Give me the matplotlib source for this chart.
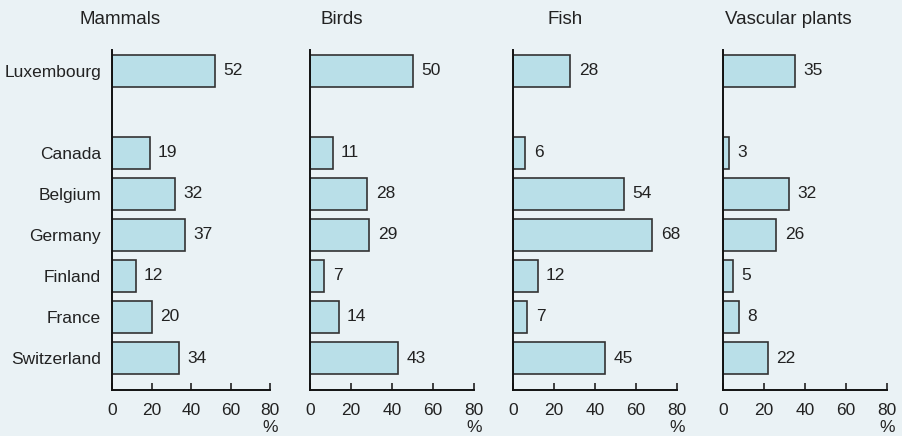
import numpy as np
from matplotlib import pyplot as plt

countries = ["Luxembourg", "Canada", "Belgium", "Germany", "Finland", "France", "Switzerland"]
groups = ["Mammals", "Birds", "Fish", "Vascular plants"]
mammals = [52, 19, 32, 37, 12, 20, 34]
birds = [50, 11, 28, 29, 7, 14, 43]
fish = [28, 6, 54, 68, 12, 7, 45]
plants = [35, 3, 32, 26, 5, 8, 22]
xticks = [0, 20, 40, 60, 80]

series = [mammals, birds, fish, plants]

plt.rcParams['font.family'] = ['Liberation Sans', 'DejaVu Sans']
plt.rcParams['font.size'] = 12.5

W, H = 902, 436
bg = "#eaf2f5"
fig = plt.figure(figsize=(W / 100, H / 100), dpi=100, facecolor=bg)

# axes left edge / width in pixels, title centre in pixels
lefts = [112, 310, 513, 723]
widths = [158, 164, 164, 164]
title_x = [120, 342, 565, 788]
top, bottom = 50, 390

# Luxembourg sits apart from the others (one empty slot)
ypos = [0, 2, 3, 4, 5, 6, 7]

for i in range(4):
    ax = fig.add_axes([lefts[i] / W, (H - bottom) / H, widths[i] / W, (bottom - top) / H])
    ax.set_facecolor(bg)
    ax.barh(ypos, series[i], height=0.8, color="#b9dfe8", edgecolor="#333333", linewidth=1.2)
    for y, v in zip(ypos, series[i]):
        ax.annotate(str(v), (v, y), xytext=(6, 0), textcoords="offset points",
                    ha="left", va="center", fontsize=12.5, color="#222222")
    ax.set_xlim(0, 80)
    ax.set_ylim(7.78, -0.51)
    ax.set_xticks(xticks)
    ax.tick_params(axis="x", direction="in", length=5, width=1.2, pad=9, colors="#222222")
    for s in ["top", "right"]:
        ax.spines[s].set_visible(False)
    for s in ["left", "bottom"]:
        ax.spines[s].set_linewidth(1.4)
        ax.spines[s].set_color("#111111")
    if i == 0:
        ax.set_yticks(ypos)
        ax.set_yticklabels(countries)
        ax.tick_params(axis="y", length=0, pad=8, colors="#222222")
    else:
        ax.set_yticks([])
    ax.annotate("%", (80, 0), xycoords=("data", "axes fraction"), xytext=(0, -27),
                textcoords="offset points", ha="center", va="center", fontsize=12.5, color="#222222")
    fig.text(title_x[i] / W, 1 - 20 / H, groups[i], ha="center", va="center",
             fontsize=13.5, color="#222222")

fig.savefig("out.png", dpi=100, facecolor=bg)
